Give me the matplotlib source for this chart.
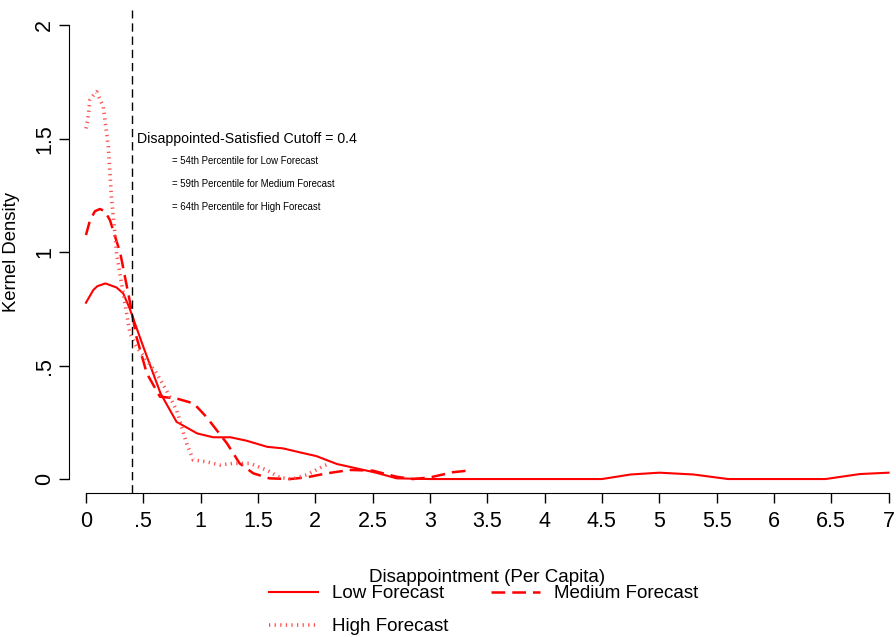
import matplotlib
matplotlib.use("Agg")
import matplotlib.pyplot as plt

plt.rcParams['font.family'] = ['Liberation Sans', 'DejaVu Sans']

# kernel density curves
x_low = [0, 0.064, 0.1, 0.17, 0.267, 0.325, 0.38, 0.5, 0.65, 0.79, 0.97, 1.11, 1.26, 1.40,
         1.58, 1.72, 1.87, 2.01, 2.19, 2.36, 2.53, 2.71, 3.0, 4.5, 4.75, 5.0, 5.3, 5.6,
         6.45, 6.75, 7.0]
y_low = [0.777, 0.833, 0.85, 0.862, 0.844, 0.818, 0.753, 0.583, 0.378, 0.252, 0.201, 0.184,
         0.184, 0.169, 0.142, 0.135, 0.117, 0.101, 0.066, 0.047, 0.028, 0.003, 0, 0, 0.02,
         0.028, 0.02, 0, 0, 0.022, 0.028]

x_med = [0, 0.035, 0.078, 0.122, 0.166, 0.21, 0.30, 0.38, 0.44, 0.53, 0.645, 0.79, 0.94,
         1.05, 1.23, 1.34, 1.46, 1.60, 1.78, 1.92, 2.1, 2.3, 2.5, 2.71, 2.85, 3.0, 3.2, 3.35]
y_med = [1.075, 1.14, 1.18, 1.19, 1.18, 1.14, 0.994, 0.789, 0.627, 0.466, 0.363, 0.355,
         0.333, 0.274, 0.157, 0.069, 0.025, 0.003, 0, 0.007, 0.025, 0.04, 0.037, 0.01, 0.0,
         0.007, 0.03, 0.038]

x_high = [0, 0.015, 0.035, 0.064, 0.093, 0.151, 0.195, 0.224, 0.253, 0.267, 0.325, 0.384,
          0.44, 0.53, 0.616, 0.70, 0.79, 0.878, 0.936, 1.05, 1.168, 1.284, 1.43, 1.575, 1.69,
          1.80, 1.924, 2.07, 2.13]
y_high = [1.545, 1.58, 1.67, 1.69, 1.706, 1.64, 1.464, 1.229, 1.08, 0.994, 0.818, 0.642,
          0.583, 0.524, 0.466, 0.392, 0.304, 0.157, 0.084, 0.076, 0.062, 0.069, 0.069, 0.04,
          0.007, 0, 0.018, 0.057, 0.069]

cutoff = 0.4
x_ticks = [0, 0.5, 1, 1.5, 2, 2.5, 3, 3.5, 4, 4.5, 5, 5.5, 6, 6.5, 7]
x_tick_labels = ["0", ".5", "1", "1.5", "2", "2.5", "3", "3.5", "4", "4.5", "5", "5.5",
                 "6", "6.5", "7"]
y_ticks = [0, 0.5, 1, 1.5, 2]
y_tick_labels = ["0", ".5", "1", "1.5", "2"]
notes = ["= 54th Percentile for Low Forecast",
         "= 59th Percentile for Medium Forecast",
         "= 64th Percentile for High Forecast"]

fig = plt.figure(figsize=(8.96, 6.37), dpi=100)
ax = fig.add_axes([0.077, 0.226, 0.917, 0.758])

l_low, = ax.plot(x_low, y_low, color="red", lw=1.5, label="Low Forecast")
l_med, = ax.plot(x_med, y_med, color="red", lw=1.8, dashes=(5.5, 2.8), label="Medium Forecast")
l_high, = ax.plot(x_high, y_high, color="#ff5050", lw=2.6, dashes=(0.35, 1.2),
                  label="High Forecast")

ax.axvline(cutoff, color="black", lw=1.0, dashes=(6, 3.5))

ax.text(0.445, 1.498, "Disappointed-Satisfied Cutoff = 0.4", fontsize=10.2, va="center")
for i, note in enumerate(notes):
    ax.text(0.75, 1.40 - 0.1 * i, note, fontsize=6.9, va="center")

ax.set_xlim(-0.148, 7.018)
ax.set_ylim(-0.0617, 2.066)
for side in ["top", "right"]:
    ax.spines[side].set_visible(False)
ax.spines["left"].set_bounds(0, 2)
ax.spines["bottom"].set_bounds(0, 7)

ax.set_xticks(x_ticks)
ax.set_xticklabels(x_tick_labels)
ax.set_yticks(y_ticks)
ax.set_yticklabels(y_tick_labels, rotation=90, va="center")
ax.tick_params(axis="x", length=7, width=1, labelsize=15.5, pad=6)
ax.tick_params(axis="y", length=7, width=1, labelsize=15.5, pad=3)

ax.set_xlabel("Disappointment (Per Capita)", fontsize=13.5)
ax.xaxis.set_label_coords(0.509, -0.158)
ax.set_ylabel("Kernel Density", fontsize=13.3)
ax.yaxis.set_label_coords(-0.06, 0.499)

# row-wise legend: Low, Medium / High
fig.legend([l_low, l_high, l_med], ["Low Forecast", "High Forecast", "Medium Forecast"],
           loc="center", bbox_to_anchor=(0.54, 0.042), ncol=2, frameon=False, fontsize=13.5,
           handlelength=2.6, handletextpad=0.75, columnspacing=2.3, labelspacing=0.85)

fig.savefig("out.png", dpi=100)
